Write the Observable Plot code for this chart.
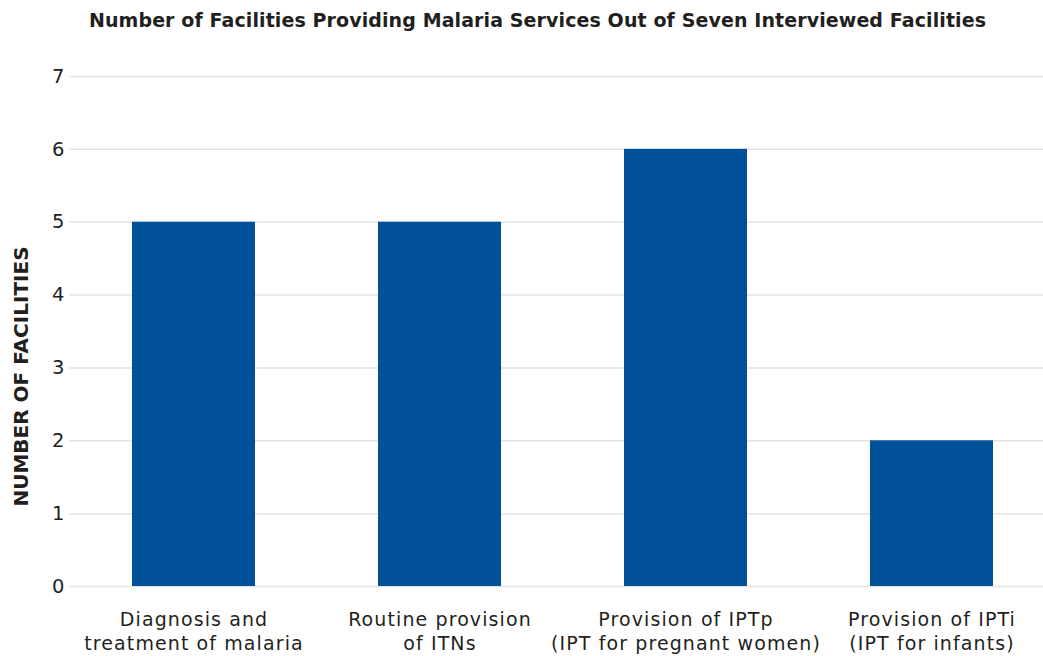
<!DOCTYPE html>
<html>
<head>
<meta charset="utf-8">
<script src="https://cdn.jsdelivr.net/npm/d3@7"></script>
<script src="https://cdn.jsdelivr.net/npm/@observablehq/plot@0.6"></script>
<style>
  html, body { margin: 0; padding: 0; background: #fff; }
  #wrap { width: 1043px; position: relative; }
  #title { height: 40px; box-sizing: border-box; padding-top: 8px; text-align: center; font-family: "DejaVu Sans", sans-serif; font-weight: 700; font-size: 19px; letter-spacing: 0.1px; color: #231f20; padding-left: 32px; line-height: 24px; }
  #chart svg g[aria-label="x-axis tick label"] text { letter-spacing: 1.1px; }
</style>
</head>
<body>
<div id="wrap">
  <div id="title">Number of Facilities Providing Malaria Services Out of Seven Interviewed Facilities</div>
  <div id="chart"></div>
</div>
<script>
const categories = [
  "Diagnosis and\ntreatment of malaria",
  "Routine provision\nof ITNs",
  "Provision of IPTp\n(IPT for pregnant women)",
  "Provision of IPTi\n(IPT for infants)"
];
const values = [5, 5, 6, 2];
const yTicks = [0, 1, 2, 3, 4, 5, 6, 7];
const yLabel = "NUMBER OF FACILITIES";

const data = categories.map((c, i) => ({category: c, value: values[i]}));

const chart = Plot.plot({
  width: 1043,
  height: 616,
  marginLeft: 69,
  marginRight: 0,
  marginTop: 36,
  marginBottom: 70,
  style: {fontFamily: "'DejaVu Sans', sans-serif", fontSize: "19px", color: "#231f20", background: "#fff"},
  x: {domain: categories, range: [70, 1055], paddingInner: 0.5, paddingOuter: 0.25, label: null},
  y: {domain: [0, 7], label: null},
  marks: [
    Plot.ruleY(yTicks, {stroke: "#e3e3e3", strokeWidth: 1.5}),
    Plot.barY(data, {x: "category", y: "value", fill: "#01519a"}),
    Plot.axisY({ticks: yTicks, tickSize: 0, tickPadding: 5, label: null, fontSize: 19.5, tickFormat: d3.format("d")}),
    Plot.axisX({tickSize: 0, tickPadding: 23, label: null, fontSize: 19, lineHeight: 1.25}),
    Plot.text([yLabel], {frameAnchor: "left", textAnchor: "middle", rotate: -90, dx: -48, dy: 45, fontWeight: 700, fontSize: 20, fill: "#231f20", style: "letter-spacing: 0.3px"})
  ]
});
document.getElementById("chart").appendChild(chart);
</script>
</body>
</html>
